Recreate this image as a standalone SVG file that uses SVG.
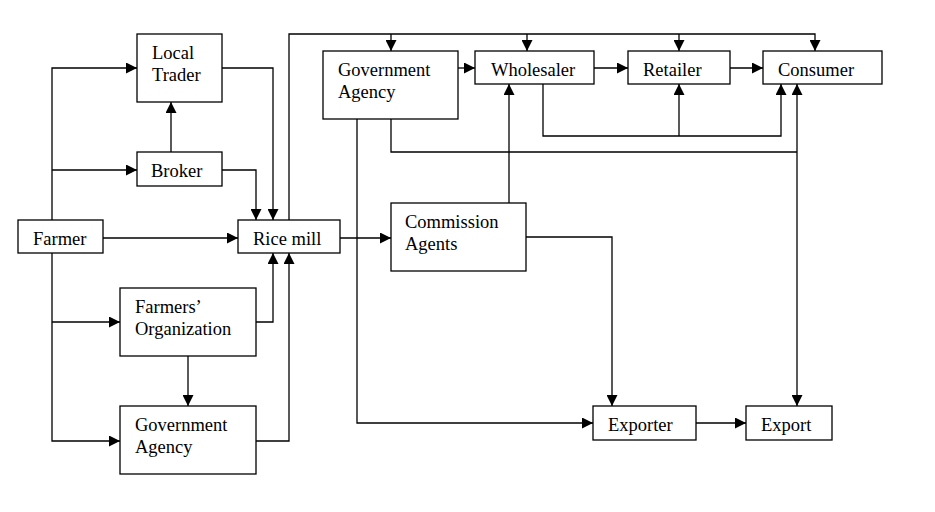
<svg xmlns="http://www.w3.org/2000/svg" width="935" height="512" viewBox="0 0 935 512">
<style>
.box{fill:#fff;stroke:#000;stroke-width:1.3}
.t{font-family:"Liberation Serif","Times New Roman",serif;font-size:18.5px;fill:#000}
.c{fill:none;stroke:#000;stroke-width:1.3}
.a{marker-end:url(#ah)}
</style>
<defs>
<marker id="ah" markerUnits="userSpaceOnUse" markerWidth="12" markerHeight="11" refX="11" refY="5.5" orient="auto">
<path d="M0,0 L11,5.5 L0,11 z" fill="#000"/>
</marker>
</defs>
<rect width="935" height="512" fill="#fff"/>
<g id="connectors">
<path class="c a" d="M52,220 V68 H137"/>
<path class="c a" d="M52,170 H137"/>
<path class="c a" d="M52,253 V441 H120"/>
<path class="c a" d="M52,322 H120"/>
<path class="c a" d="M103,238 H238"/>
<path class="c a" d="M222,68 H273 V220"/>
<path class="c a" d="M222,170 H256 V220"/>
<path class="c a" d="M171,152 V102"/>
<path class="c a" d="M256,322 H273 V253"/>
<path class="c a" d="M256,441 H289 V253"/>
<path class="c a" d="M188,356 V406"/>
<path class="c a" d="M289,220 V34 H815 V51"/>
<path class="c a" d="M391,34 V51"/>
<path class="c a" d="M527,34 V51"/>
<path class="c a" d="M679,34 V51"/>
<path class="c a" d="M340,238 H391"/>
<path class="c a" d="M458,68 H475"/>
<path class="c a" d="M594,68 H628"/>
<path class="c a" d="M730,68 H763"/>
<path class="c a" d="M509,203 V84"/>
<path class="c a" d="M543,84 V136 H781 V84"/>
<path class="c a" d="M679,136 V84"/>
<path class="c" d="M391,119 V152 H797"/>
<path class="c a" d="M797,152 V84"/>
<path class="c a" d="M797,152 V406"/>
<path class="c a" d="M357,119 V423 H593"/>
<path class="c a" d="M526,237 H612 V406"/>
<path class="c a" d="M696,423 H746"/>
</g>
<g id="local-trader"><rect class="box" x="137" y="34" width="85" height="68"/><text class="t" x="152" y="59">Local</text><text class="t" x="152" y="81">Trader</text></g>
<g id="broker"><rect class="box" x="137" y="152" width="85" height="34"/><text class="t" x="151" y="177">Broker</text></g>
<g id="farmer"><rect class="box" x="18" y="220" width="85" height="33"/><text class="t" x="33" y="245">Farmer</text></g>
<g id="rice-mill"><rect class="box" x="238" y="220" width="102" height="33"/><text class="t" x="253" y="245">Rice mill</text></g>
<g id="farmers-org"><rect class="box" x="120" y="288" width="136" height="68"/><text class="t" x="135" y="313">Farmers’</text><text class="t" x="135" y="335">Organization</text></g>
<g id="gov-agency-bottom"><rect class="box" x="120" y="406" width="136" height="68"/><text class="t" x="135" y="431">Government</text><text class="t" x="135" y="453">Agency</text></g>
<g id="gov-agency-top"><rect class="box" x="323" y="51" width="135" height="68"/><text class="t" x="338" y="76">Government</text><text class="t" x="338" y="98">Agency</text></g>
<g id="wholesaler"><rect class="box" x="475" y="51" width="119" height="33"/><text class="t" x="491" y="76">Wholesaler</text></g>
<g id="retailer"><rect class="box" x="628" y="51" width="102" height="33"/><text class="t" x="643" y="76">Retailer</text></g>
<g id="consumer"><rect class="box" x="763" y="51" width="119" height="33"/><text class="t" x="778" y="76">Consumer</text></g>
<g id="commission-agents"><rect class="box" x="391" y="203" width="135" height="68"/><text class="t" x="405" y="228">Commission</text><text class="t" x="405" y="250">Agents</text></g>
<g id="exporter"><rect class="box" x="593" y="406" width="103" height="34"/><text class="t" x="608" y="431">Exporter</text></g>
<g id="export"><rect class="box" x="746" y="406" width="86" height="34"/><text class="t" x="761" y="431">Export</text></g>
</svg>
